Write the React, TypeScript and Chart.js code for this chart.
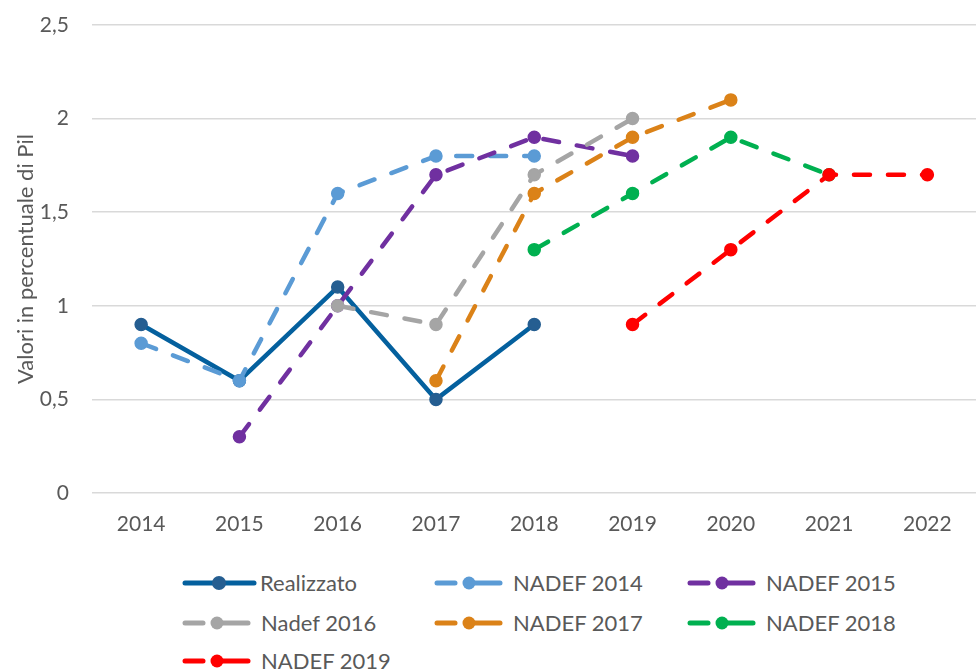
import React, { useEffect, useRef } from "react";
import { Chart, registerables } from "chart.js";

Chart.register(...registerables);

const years = ["2014", "2015", "2016", "2017", "2018", "2019", "2020", "2021", "2022"];
const yTicks = [0, 0.5, 1, 1.5, 2, 2.5];

const realizzato = [0.9, 0.6, 1.1, 0.5, 0.9, null, null, null, null];
const nadef2014 = [0.8, 0.6, 1.6, 1.8, 1.8, null, null, null, null];
const nadef2015 = [null, 0.3, 1.0, 1.7, 1.9, 1.8, null, null, null];
const nadef2016 = [null, null, 1.0, 0.9, 1.7, 2.0, null, null, null];
const nadef2017 = [null, null, null, 0.6, 1.6, 1.9, 2.1, null, null];
const nadef2018 = [null, null, null, null, 1.3, 1.6, 1.9, 1.7, null];
const nadef2019 = [null, null, null, null, null, 0.9, 1.3, 1.7, 1.7];

const seriesNames = ["Realizzato", "NADEF 2014", "NADEF 2015", "Nadef 2016", "NADEF 2017", "NADEF 2018", "NADEF 2019"];
const seriesData = [realizzato, nadef2014, nadef2015, nadef2016, nadef2017, nadef2018, nadef2019];
const seriesColors = ["#04609E", "#5B9BD5", "#7030A0", "#A5A5A5", "#DB8218", "#00B050", "#FF0000"];
const markerColors = ["#255E91", "#5B9BD5", "#7030A0", "#A5A5A5", "#DB8218", "#00B050", "#FF0000"];
const dashed = [false, true, true, true, true, true, true];

const FONT = "Lato, 'Open Sans', sans-serif";
const TEXT = "#595959";

function LegendItem({ name, color, marker, dash, left, top }: any) {
  return (
    <>
      <svg width={80} height={20} style={{ position: "absolute", left, top: top - 10, display: "block" }}>
        {dash ? (
          <>
            <line x1={3} y1={10} x2={21} y2={10} stroke={color} strokeWidth={5} strokeLinecap="round" />
            <line x1={41} y1={10} x2={66} y2={10} stroke={color} strokeWidth={5} strokeLinecap="round" />
            <circle cx={35} cy={10} r={6.5} fill={marker} />
          </>
        ) : (
          <>
            <line x1={3} y1={10} x2={72} y2={10} stroke={color} strokeWidth={5} strokeLinecap="round" />
            <circle cx={37} cy={10} r={7} fill={marker} />
          </>
        )}
      </svg>
      <span
        style={{
          position: "absolute",
          left: left + (dash ? 79 : 78),
          top: top - 14,
          lineHeight: "28px",
          fontFamily: FONT,
          fontSize: 22,
          color: TEXT,
          whiteSpace: "nowrap",
        }}
      >
        {name}
      </span>
    </>
  );
}

export default function App() {
  const ref = useRef<HTMLCanvasElement | null>(null);

  useEffect(() => {
    document.body.style.margin = "0";
    const ctx = ref.current!;
    const chart = new Chart(ctx, {
      type: "line",
      data: {
        labels: years,
        datasets: seriesNames.map((name, i) => ({
          label: name,
          data: seriesData[i],
          borderColor: seriesColors[i],
          backgroundColor: markerColors[i],
          pointBackgroundColor: markerColors[i],
          pointBorderColor: markerColors[i],
          borderWidth: 4.5,
          borderDash: dashed[i] ? [16, 18] : [],
          borderCapStyle: "round",
          borderJoinStyle: "round",
          pointRadius: 6,
          pointBorderWidth: 1.5,
          pointStyle: "circle",
          tension: 0,
          spanGaps: false,
          fill: false,
          order: i === 0 ? 10 : 10 - i,
        })),
      },
      options: {
        animation: false,
        responsive: false,
        maintainAspectRatio: false,
        layout: { padding: { top: 25, right: 0, left: 0, bottom: 0 } },
        plugins: {
          legend: { display: false },
          tooltip: { enabled: false },
        },
        scales: {
          x: {
            offset: true,
            grid: { display: false, drawTicks: false },
            border: { display: false },
            ticks: { font: { family: FONT, size: 21 }, color: TEXT, padding: 19 },
            afterFit: (s: any) => {
              s.height = 67;
              s.paddingLeft = 0;
              s.paddingRight = 0;
            },
          },
          y: {
            min: 0,
            max: 2.5,
            afterBuildTicks: (s: any) => {
              s.ticks = yTicks.map((v) => ({ value: v }));
            },
            grid: { color: "#D9D9D9", lineWidth: 1.5, drawTicks: false },
            border: { display: false },
            ticks: {
              font: { family: FONT, size: 21 },
              color: TEXT,
              padding: 23,
              callback: (v: any) => String(v).replace(".", ","),
            },
            title: {
              display: true,
              text: "Valori in percentuale di Pil",
              font: { family: FONT, size: 22 },
              color: TEXT,
              padding: { top: 13, bottom: 0 },
            },
            afterFit: (s: any) => {
              s.width = 92;
              s.paddingTop = 0;
              s.paddingBottom = 0;
            },
          },
        },
      },
    });
    return () => chart.destroy();
  }, []);

  const cols = [182, 434, 687];
  const rows = [583, 623, 661];

  return (
    <div style={{ position: "relative", width: 976, height: 670, overflow: "hidden", background: "#fff" }}>
      <canvas ref={ref} width={984} height={560} style={{ position: "absolute", left: 0, top: 0, width: 984, height: 560 }} />
      {seriesNames.map((n, i) => (
        <LegendItem
          key={n}
          name={n}
          color={seriesColors[i]}
          marker={markerColors[i]}
          dash={dashed[i]}
          left={cols[i % 3]}
          top={rows[Math.floor(i / 3)]}
        />
      ))}
    </div>
  );
}
